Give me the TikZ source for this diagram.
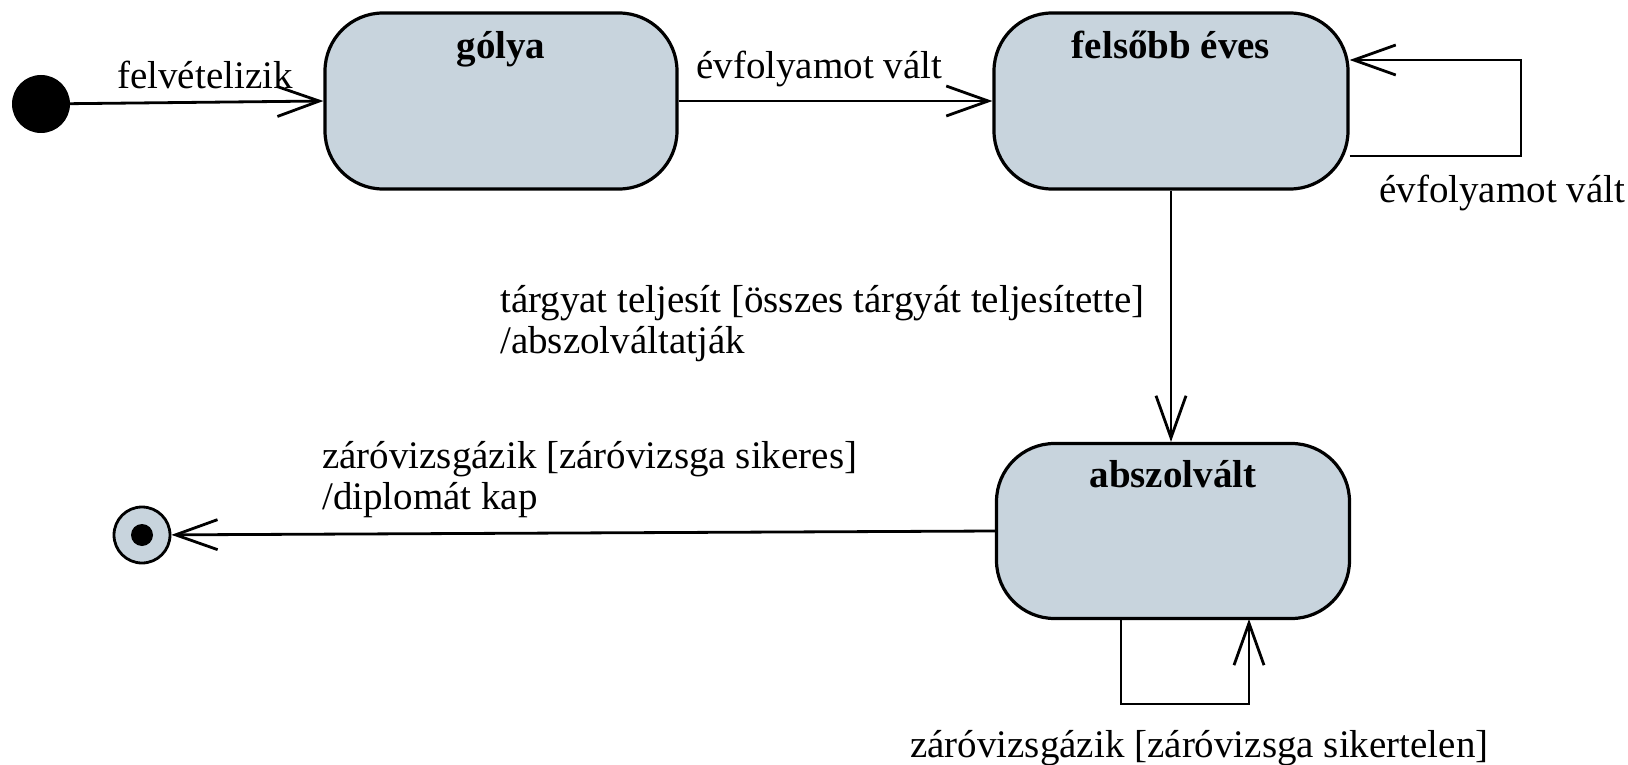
\documentclass[tikz,border=0pt]{standalone}
\usepackage{fontspec}
\setmainfont{Liberation Serif}
\usetikzlibrary{arrows.meta,positioning}
\definecolor{statefill}{RGB}{200,212,221}
\begin{document}
\begin{tikzpicture}[x=1pt,y=-1pt,
  every node/.style={font=\fontsize{39pt}{40.5pt}\selectfont},
  state/.style={draw=black,line width=3.2pt,fill=statefill,rounded corners=58pt,
    minimum width=352pt,minimum height=176pt,inner sep=0pt},
  title/.style={font=\fontsize{39pt}{40.5pt}\selectfont\bfseries,anchor=base,inner sep=0pt},
  lbl/.style={anchor=base west,inner sep=0pt,align=left},
  trans/.style={line width=2.8pt,-{Straight Barb[length=42pt,width=30pt,line width=2.8pt]}}
]
\useasboundingbox (0,0) rectangle (1628,765);

% states
\node[circle,fill=black,minimum size=58pt,inner sep=0pt] (init) at (41,104) {};
\node[state] (golya) at (501,101) {};
\node[state,minimum width=354pt] (felsobb) at (1171,101) {};
\node[state,minimum width=353pt,minimum height=175pt] (absz) at (1173,531) {};
\node[circle,draw=black,line width=2.8pt,fill=statefill,minimum size=56pt,inner sep=0pt] (final) at (142,535) {};
\node[circle,fill=black,minimum size=22pt,inner sep=0pt] (finaldot) at (final.center) {};

% state names
\node[title] (tgolya) at ([yshift=-47pt]golya.north) {gólya};
\node[title] (tfelsobb) at ([yshift=-47pt]felsobb.north) {felsőbb éves};
\node[title] (tabsz) at ([yshift=-46pt]absz.north) {abszolvált};

% transitions (multi-line labels are placed by the baseline of their last line)
\draw[trans] (init) -- (golya.west);
\node[lbl] (l1) at (117,89) {felvételizik};

\draw[trans] (golya.east) -- (felsobb.west);
\node[lbl] (l2) at (696,79) {évfolyamot vált};

\coordinate (fa) at ([yshift=-55pt]felsobb.east);
\coordinate (fb) at (1521,156);
\coordinate (fc) at (1521,60);
\coordinate (fd) at ([yshift=41pt]felsobb.east);
\draw[trans] (fa) -- (fb) -- (fc) -- (fd);
\node[lbl] (l3) at (1379,202) {évfolyamot vált};

\draw[trans] (felsobb.south) -- (felsobb.south |- absz.north);
\node[lbl] (l4) at (500,353) {tárgyat teljesít [összes tárgyát teljesítette]\\/abszolváltatják};

\draw[trans] (absz.west) -- (final);
\node[lbl] (l5) at (322,509) {záróvizsgázik [záróvizsga sikeres]\\/diplomát kap};

\coordinate (aa) at (1121,619);
\coordinate (ab) at (1121,704);
\coordinate (ac) at (1249,704);
\coordinate (ad) at (1249,619);
\draw[trans] (aa) -- (ab) -- (ac) -- (ad);
\node[lbl] (l6) at (910,757) {záróvizsgázik [záróvizsga sikertelen]};
\end{tikzpicture}
\end{document}
